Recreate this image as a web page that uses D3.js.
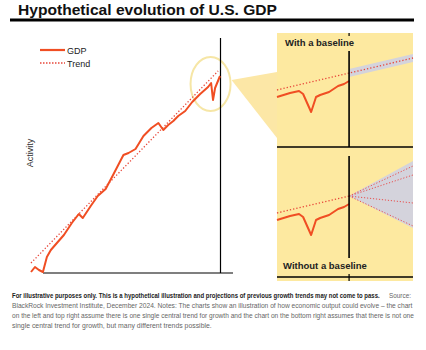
<!DOCTYPE html>
<html>
<head>
<meta charset="utf-8">
<script src="https://cdn.jsdelivr.net/npm/d3@7"></script>
<style>
  body { margin: 0; background: #fff; }
  svg { display: block; font-family: "Liberation Sans", Arial, sans-serif; }
</style>
</head>
<body>
<div id="chart"></div>
<script>
// main chart: period index vs activity
const gdpPeriod = [0, 2.1, 4.2, 6.3, 8.4, 10.5, 13.7, 17.4, 21.6, 25.3, 27.4, 31.6, 35.3, 39.5, 43.7, 48.9, 51.6, 55.3, 59.5, 63.7, 67.4, 70, 72.6, 75.3, 77.9, 81.6, 85.3, 89.5, 93.7, 95.3, 96.3, 97.4, 100];
const gdpValue  = [0.5, 3, 1.5, 0.5, 8, 11.5, 15, 19, 25, 29.5, 27.5, 33.5, 38.5, 42, 49.5, 59, 60, 62, 68.5, 72.5, 75, 71.5, 74, 76, 78.5, 81, 85.5, 89.5, 93, 95, 86.5, 92.5, 98.5];
const trendPeriod = [0, 99];
const trendValue  = [5, 101];

// zoomed insets: periods relative to today (0)
const zoomPeriod = [-53, -43.4, -36.8, -33.8, -27.9, -24.3, -21.3, -14.7, -8.1, -3.7, 0];
const zoomGdp    = [50, 54, 56, 53, 35, 50, 52, 55, 61, 63, 66];
const zoomTrendPeriod = [-53, 47];
const zoomTrendValue  = [57, 89];
const bandHalf = 4;
const fanEnds = [104, 95, 67, 44];
const fanEnvelope = [109, 42];

const legendLabels = ["GDP", "Trend"];
const panelTitles = ["With a baseline", "Without a baseline"];
const noteBold = "For illustrative purposes only. This is a hypothetical illustration and projections of previous growth trends may not come to pass.";
const noteLines = [
  "Source:",
  "BlackRock Investment Institute, December 2024. Notes: The charts show an illustration of how economic output could evolve \u2013 the chart",
  "on the left and top right assume there is one single central trend for growth and the chart on the bottom right assumes that there is not one",
  "single central trend for growth, but many different trends possible."
];

const W = 426, H = 350;
const orange = "#f04e23", dotRed = "#e8473a", yellow = "#fde9a0", grey = "#d4d3dc";

const svg = d3.select("#chart").append("svg").attr("width", W).attr("height", H);

// title
svg.append("text").attr("x", 18).attr("y", 14.5)
  .attr("font-size", 15).attr("font-weight", "bold").attr("fill", "#111")
  .attr("textLength", 259).attr("lengthAdjust", "spacingAndGlyphs")
  .text("Hypothetical evolution of U.S. GDP");
svg.append("line").attr("x1", 10).attr("x2", 414).attr("y1", 20).attr("y2", 20)
  .attr("stroke", "#000").attr("stroke-width", 3);

// ---- main chart
const x = d3.scaleLinear().domain([0, 100]).range([31, 220]);
const y = d3.scaleLinear().domain([0, 100]).range([273, 73]);

// ellipse and callout wedge
const ex = x(95), ey = y(95) + 1;
svg.append("path")
  .attr("d", `M${ex + 21},${ey - 4} L277,72 L277,138 Z`)
  .attr("fill", "#fce7a6");
svg.append("rect").attr("x", 277).attr("y", 33).attr("width", 136).attr("height", 248)
  .attr("fill", yellow);
svg.append("ellipse").attr("cx", ex).attr("cy", ey).attr("rx", 20).attr("ry", 27)
  .attr("fill", "none").attr("stroke", "#f6e6a6").attr("stroke-width", 2);

svg.append("line").attr("x1", 43).attr("x2", 233).attr("y1", 273).attr("y2", 273)
  .attr("stroke", "#000").attr("stroke-width", 1.2);
svg.append("line").attr("x1", 220.5).attr("x2", 220.5).attr("y1", 38).attr("y2", 273)
  .attr("stroke", "#000").attr("stroke-width", 1.2);

svg.append("path")
  .attr("d", d3.line()(trendPeriod.map((p, i) => [x(p), y(trendValue[i])])))
  .attr("fill", "none").attr("stroke", dotRed).attr("stroke-width", 1.3)
  .attr("stroke-dasharray", "1.3,2");
svg.append("path")
  .attr("d", d3.line()(gdpPeriod.map((p, i) => [x(p), y(gdpValue[i])])))
  .attr("fill", "none").attr("stroke", orange).attr("stroke-width", 2)
  .attr("stroke-linejoin", "round");

svg.append("text").attr("transform", "translate(33,153) rotate(-90)")
  .attr("text-anchor", "middle").attr("font-size", 9).attr("fill", "#333").text("Activity");

// legend
const lg = svg.append("g").attr("transform", "translate(40,50)");
lg.append("line").attr("x1", 0).attr("x2", 25).attr("y1", 0).attr("y2", 0)
  .attr("stroke", orange).attr("stroke-width", 2.2);
lg.append("line").attr("x1", 0).attr("x2", 25).attr("y1", 13).attr("y2", 13)
  .attr("stroke", dotRed).attr("stroke-width", 1.5).attr("stroke-dasharray", "1.5,1.5");
lg.selectAll("text.lbl").data(legendLabels).enter().append("text")
  .attr("x", 27).attr("y", (d, i) => i * 13 + 3.5)
  .attr("font-size", 9).attr("fill", "#222").text(d => d);

// ---- insets
const zx = d3.scaleLinear().domain([-53, 47]).range([277, 413]);
const tv = d3.scaleLinear().domain(zoomTrendPeriod).range(zoomTrendValue);
const panels = [{ axis: 147, vTop: 51, vBot: 147, tick: [33, 36], base: 147, title: [285, 46] },
                { axis: 277, vTop: 156, vBot: 258, tick: [274, 281], base: 270, title: [283, 269] }];

panels.forEach((p, k) => {
  const zy = d3.scaleLinear().domain([0, 100]).range([p.base, p.base - 100]);
  const g = svg.append("g");
  if (k === 0) {
    const area = d3.area().x(d => zx(d)).y0(d => zy(tv(d) - bandHalf)).y1(d => zy(tv(d) + bandHalf));
    g.append("path").attr("d", area([0, 47])).attr("fill", grey);
  } else {
    const o = tv(0);
    g.append("path")
      .attr("d", d3.line()([[zx(0), zy(o)], [zx(47), zy(fanEnvelope[0])], [zx(47), zy(fanEnvelope[1])]]) + "Z")
      .attr("fill", grey);
    fanEnds.forEach(v => {
      g.append("line").attr("x1", zx(0)).attr("y1", zy(o)).attr("x2", zx(47)).attr("y2", zy(v))
        .attr("stroke", "#e8504f").attr("stroke-width", 1).attr("stroke-dasharray", "1.2,1.8");
    });
  }
  const tEnd = k === 0 ? 47 : 0;
  g.append("path")
    .attr("d", d3.line()([[zx(-53), zy(tv(-53))], [zx(tEnd), zy(tv(tEnd))]]))
    .attr("fill", "none").attr("stroke", dotRed).attr("stroke-width", 1.3).attr("stroke-dasharray", "1.3,2");
  g.append("path")
    .attr("d", d3.line()(zoomPeriod.map((t, i) => [zx(t), zy(zoomGdp[i])])))
    .attr("fill", "none").attr("stroke", orange).attr("stroke-width", 2).attr("stroke-linejoin", "round");

  g.append("line").attr("x1", 277).attr("x2", 413).attr("y1", p.axis).attr("y2", p.axis)
    .attr("stroke", "#000").attr("stroke-width", 1.3);
  g.append("line").attr("x1", zx(0)).attr("x2", zx(0)).attr("y1", p.vTop).attr("y2", p.vBot)
    .attr("stroke", "#000").attr("stroke-width", 1.6);
  g.append("line").attr("x1", zx(0)).attr("x2", zx(0)).attr("y1", p.tick[0]).attr("y2", p.tick[1])
    .attr("stroke", "#000").attr("stroke-width", 1.2);
  g.append("text").attr("x", p.title[0]).attr("y", p.title[1])
    .attr("font-size", 9.5).attr("font-weight", "bold").attr("fill", "#222").text(panelTitles[k]);
});

// ---- notes: squeeze each line horizontally to its width in the reference
const notes = svg.append("g").attr("font-family", "'Liberation Sans Narrow', 'Liberation Sans', sans-serif")
  .attr("font-size", 6.4);
function note(txt, x0, y0, w, bold, fill) {
  const t = notes.append("text").attr("fill", fill).attr("font-weight", bold ? "bold" : null).text(txt);
  const s = w / t.node().getComputedTextLength();
  t.attr("transform", `translate(${x0},${y0}) scale(${s},1)`);
}
note(noteBold, 12, 298, 368, true, "#222");
note(noteLines[0], 389, 298, 22, false, "#666");
const widths = [401, 402, 200];
noteLines.slice(1).forEach((t, i) => note(t, 12, 308 + i * 10, widths[i], false, "#666"));
</script>
</body>
</html>
